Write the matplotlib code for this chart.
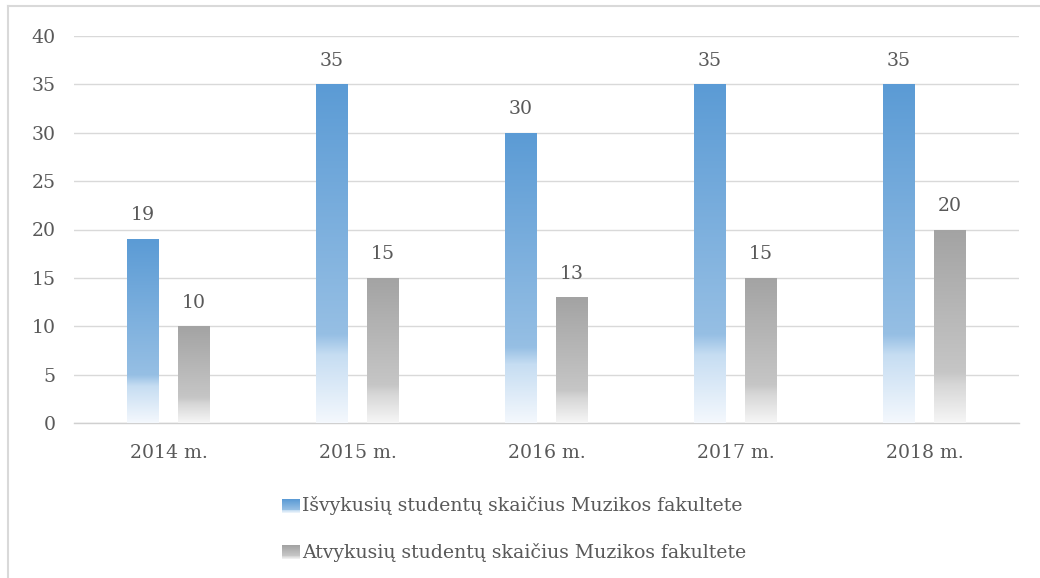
import numpy as np
import matplotlib
matplotlib.use("Agg")
import matplotlib.pyplot as plt
from matplotlib.colors import LinearSegmentedColormap
from matplotlib.patches import Rectangle
from matplotlib.lines import Line2D
from matplotlib.legend_handler import HandlerBase

categories = ["2014 m.", "2015 m.", "2016 m.", "2017 m.", "2018 m."]
isvykusiu = [19, 35, 30, 35, 35]
atvykusiu = [10, 15, 13, 15, 20]
series_names = ["Išvykusių studentų skaičius Muzikos fakultete",
                "Atvykusių studentų skaičius Muzikos fakultete"]
yticks = [0, 5, 10, 15, 20, 25, 30, 35, 40]

plt.rcParams['font.family'] = ['DejaVu Serif']
txt = '#595959'
fs = 13.6

fig = plt.figure(figsize=(10.4, 5.78), dpi=100)
ax = fig.add_axes([74/1040, 1-423/578, (1019-74)/1040, (423-36)/578])

blue_cmap = LinearSegmentedColormap.from_list('b', [
    (0.0, (91/255, 155/255, 213/255)),
    (0.74, (150/255, 191/255, 228/255)),
    (0.80, (198/255, 221/255, 242/255)),
    (1.0, (244/255, 248/255, 253/255))])
gray_cmap = LinearSegmentedColormap.from_list('g', [
    (0.0, (163/255, 163/255, 163/255)),
    (0.74, (198/255, 198/255, 198/255)),
    (0.80, (214/255, 214/255, 214/255)),
    (1.0, (246/255, 246/255, 246/255))])

x = np.arange(len(categories))
w = 0.167
off = 0.136
grad = np.linspace(0, 1, 256).reshape(-1, 1)

for vals, dx, cmap in [(isvykusiu, -off, blue_cmap), (atvykusiu, off, gray_cmap)]:
    bars = ax.bar(x + dx, vals, w, color='none', edgecolor='none', zorder=3)
    for b, v in zip(bars, vals):
        x0 = b.get_x()
        im = ax.imshow(grad, cmap=cmap, extent=[x0, x0 + b.get_width(), 0, v],
                       aspect='auto', origin='upper', zorder=3, interpolation='bilinear')
        im.set_clip_path(b)
        ax.text(b.get_x() + b.get_width() / 2, v + 2.45, str(v), ha='center', va='center',
                fontsize=fs, color=txt, zorder=4)

ax.set_xlim(-0.5, len(categories) - 0.5)
ax.set_ylim(0, 40)
ax.set_yticks(yticks)
ax.set_xticks(x)
ax.set_xticklabels(categories)
ax.tick_params(axis='both', length=0, labelsize=fs, colors=txt)
ax.tick_params(axis='y', pad=13)
ax.tick_params(axis='x', pad=15)
ax.grid(axis='y', color='#D9D9D9', linewidth=1.0, zorder=0)
ax.set_axisbelow(True)
for s in ['top', 'right', 'left']:
    ax.spines[s].set_visible(False)
ax.spines['bottom'].set_color('#D0D0D0')
ax.spines['bottom'].set_linewidth(1.0)


class GradHandler(HandlerBase):
    def __init__(self, cmap):
        super().__init__()
        self.cmap = cmap

    def create_artists(self, legend, orig_handle, xdescent, ydescent, width, height, fontsize, trans):
        arts = []
        n = 14
        hh = height * 1.05
        y0 = -ydescent + (height - hh) / 2 - 1
        for i in range(n):
            c = self.cmap(i / (n - 1) * 0.95)
            r = Rectangle((-xdescent, y0 + hh - (i + 1) * hh / n), width, hh / n + 0.2,
                          facecolor=c, edgecolor='none', transform=trans)
            arts.append(r)
        return arts


h1 = Rectangle((0, 0), 1, 1)
h2 = Rectangle((0, 0), 1, 1)
leg = fig.legend([h1, h2], series_names, loc='center', bbox_to_anchor=(514/1040, 1-529/578),
                 ncol=1, frameon=False, fontsize=fs, labelcolor=txt,
                 handler_map={h1: GradHandler(blue_cmap), h2: GradHandler(gray_cmap)},
                 handlelength=0.95, handletextpad=0.12, labelspacing=1.45)

# chart border
fig.add_artist(Line2D([8/1040, 1], [1-6/578, 1-6/578], color='#D9D9D9', lw=1.5, transform=fig.transFigure))
fig.add_artist(Line2D([8/1040, 8/1040], [0, 1-6/578], color='#D9D9D9', lw=1.5, transform=fig.transFigure))

fig.savefig('out.png', dpi=100)
